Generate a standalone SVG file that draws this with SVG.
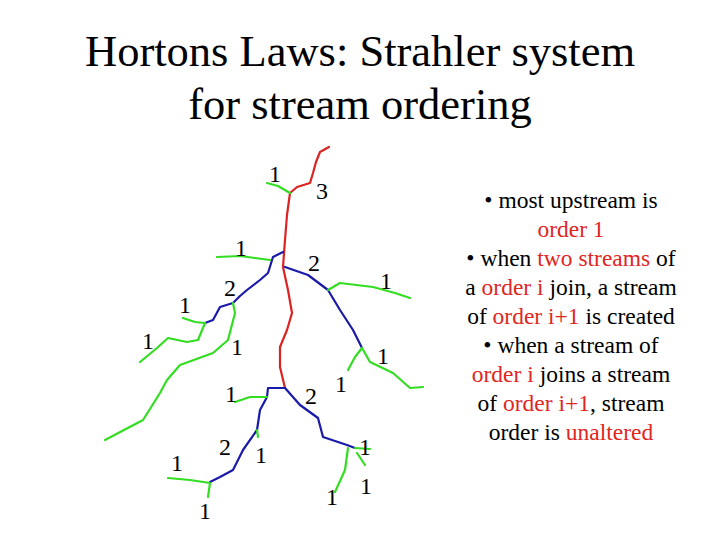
<svg xmlns="http://www.w3.org/2000/svg" width="720" height="540" viewBox="0 0 720 540">
<style>
.t{font-family:"Liberation Serif",serif;fill:#000}
.n{font-family:"Liberation Serif",serif;font-size:24px;text-anchor:middle}
.b{font-family:"Liberation Serif",serif;font-size:23.5px;text-anchor:middle}
.r{fill:#e0261e}
path{fill:none;stroke-width:2.2;stroke-linejoin:round;stroke-linecap:round}
.g{stroke:#33dd22}.bl{stroke:#1a1aaa}.rd{stroke:#dd2222}
</style>
<rect width="720" height="540" fill="#fff"/>
<text class="t" x="360" y="66" font-size="44.5" text-anchor="middle">Hortons Laws:  Strahler system</text>
<text class="t" x="360" y="119" font-size="44.5" text-anchor="middle">for stream ordering</text>
<g id="streams">
<path class="rd" d="M329,147 L320,152 L316,162 L313,173 L310,183 L297,187 L290,193 L287,215 L285,240 L283,267 L288,290 L292,313 L287,330 L280,347 L280,367 L285,388"/>
<path class="g" d="M267,183 L278,186 L290,193"/>
<path class="bl" d="M283,252 L273,257 L268,273 L260,280 L247,290 L240,296 L233,303 L220,307 L213,320 L205,323"/>
<path class="g" d="M217,257 L240,256 L255,258 L270,260"/>
<path class="g" d="M183,318 L195,322 L205,323"/>
<path class="g" d="M205,323 L198,340 L187,342 L168,338 L157,348 L140,362"/>
<path class="g" d="M233,303 L235,313 L228,340 L213,353 L180,365 L167,380 L160,393 L143,420 L105,440"/>
<path class="bl" d="M285,267 L308,275 L328,290 L340,310 L353,330 L362,348"/>
<path class="g" d="M328,290 L340,283 L373,287 L395,293 L410,298"/>
<path class="g" d="M362,348 L370,362 L393,373 L410,388 L423,387"/>
<path class="g" d="M348,370 L355,357 L362,348"/>
<path class="bl" d="M285,388 L268,388 L267,397 L260,410 L257,430 L243,450 L233,470 L220,477 L210,482"/>
<path class="g" d="M235,402 L250,397 L267,397"/>
<path class="g" d="M257,430 L258,437"/>
<path class="g" d="M168,478 L190,480 L210,483 L208,497"/>
<path class="bl" d="M285,388 L300,405 L318,418 L323,437 L347,445 L355,448"/>
<path class="g" d="M355,448 L370,449"/>
<path class="g" d="M357,453 L365,465"/>
<path class="g" d="M348,448 L345,470 L335,492"/>
</g>
<g id="labels">
<text class="n" x="275" y="182">1</text>
<text class="n" x="322" y="199">3</text>
<text class="n" x="241" y="256">1</text>
<text class="n" x="314" y="271">2</text>
<text class="n" x="386" y="289">1</text>
<text class="n" x="230" y="296">2</text>
<text class="n" x="185" y="313">1</text>
<text class="n" x="148" y="349">1</text>
<text class="n" x="237" y="355">1</text>
<text class="n" x="383" y="364">1</text>
<text class="n" x="231" y="402">1</text>
<text class="n" x="311" y="404">2</text>
<text class="n" x="341" y="392">1</text>
<text class="n" x="177" y="471">1</text>
<text class="n" x="225" y="455">2</text>
<text class="n" x="261" y="463">1</text>
<text class="n" x="365" y="455">1</text>
<text class="n" x="205" y="519">1</text>
<text class="n" x="332" y="505">1</text>
<text class="n" x="366" y="494">1</text>
</g>
<g id="notes" class="b">
<text x="571" y="208">• most upstream is</text>
<text x="571" y="237" class="r">order 1</text>
<text x="571" y="266">• when <tspan class="r">two streams</tspan> of</text>
<text x="571" y="295">a <tspan class="r">order i</tspan> join, a stream</text>
<text x="571" y="324">of <tspan class="r">order i+1</tspan> is created</text>
<text x="571" y="353">•  when a stream of</text>
<text x="571" y="382"><tspan class="r">order i</tspan> joins a stream</text>
<text x="571" y="411">of <tspan class="r">order i+1</tspan>, stream</text>
<text x="571" y="440">order is <tspan class="r">unaltered</tspan></text>
</g>
</svg>
